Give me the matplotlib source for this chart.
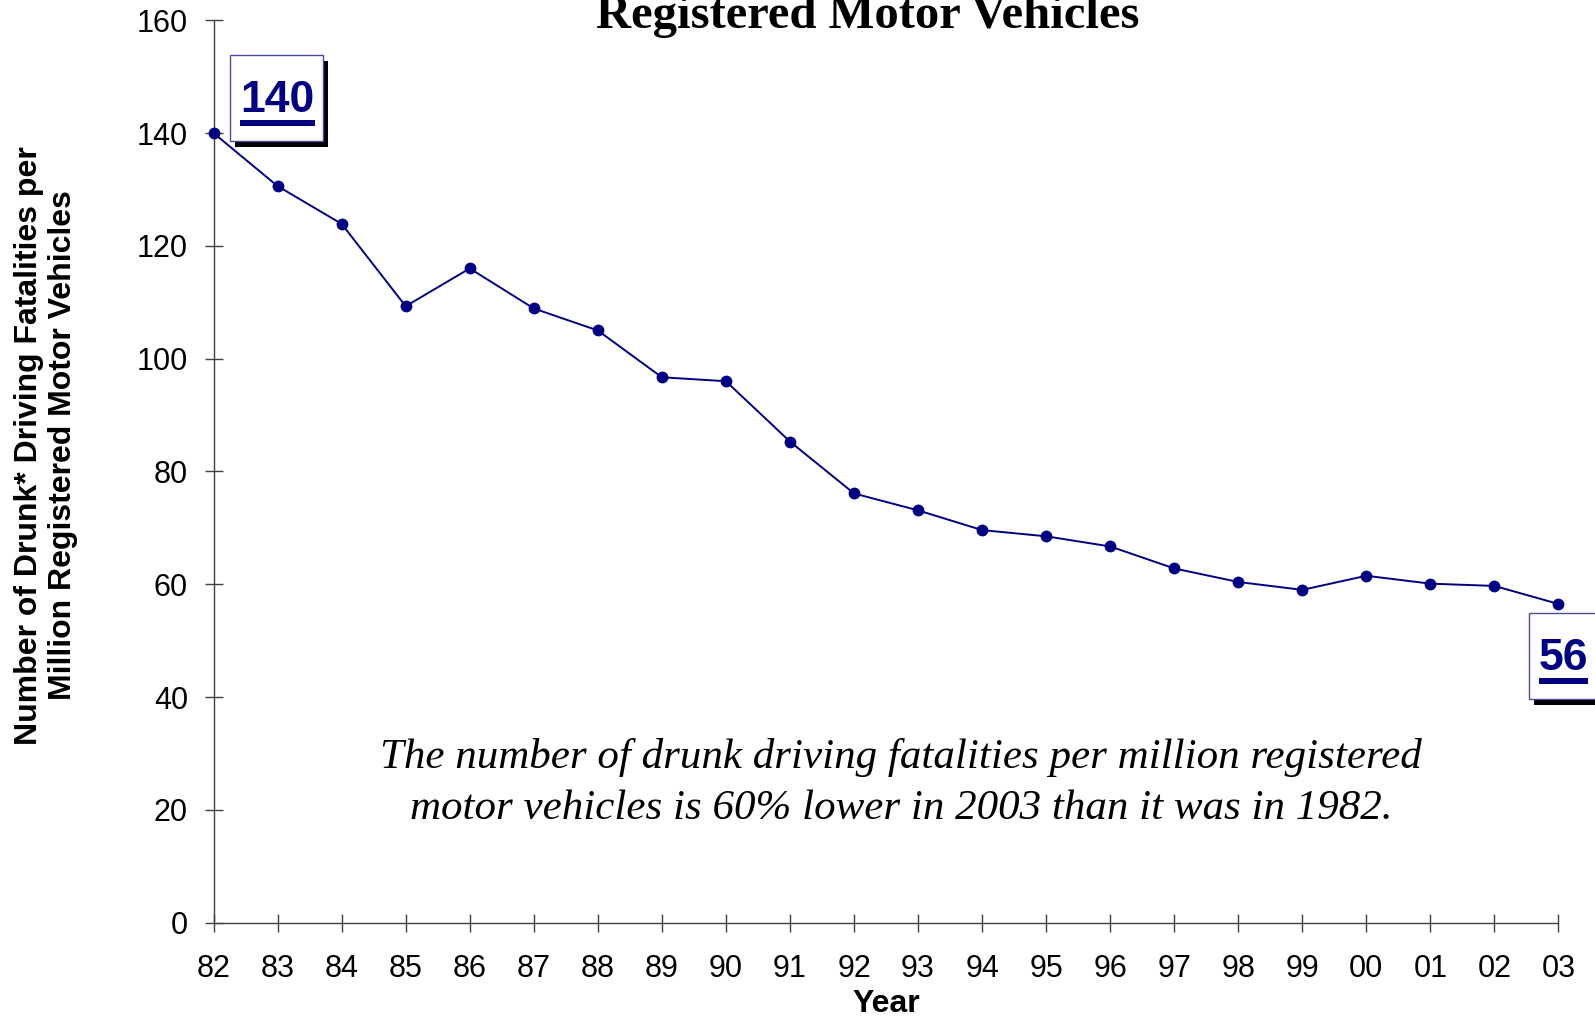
import matplotlib.pyplot as plt
import matplotlib.transforms as mtransforms
from matplotlib.patches import Rectangle

plt.rcParams['font.family'] = ['Liberation Sans', 'DejaVu Sans']

years = ['82', '83', '84', '85', '86', '87', '88', '89', '90', '91', '92',
         '93', '94', '95', '96', '97', '98', '99', '00', '01', '02', '03']
fatalities = [140.0, 130.6, 123.9, 109.3, 116.0, 108.9, 105.0, 96.7, 96.0, 85.3, 76.1,
              73.1, 69.6, 68.5, 66.7, 62.8, 60.4, 59.0, 61.5, 60.1, 59.7, 56.5]
y_ticks = [0, 20, 40, 60, 80, 100, 120, 140, 160]

navy = '#000080'
axis_grey = '#404040'

fig = plt.figure(figsize=(15.95, 10.21), dpi=100)
ax = fig.add_axes([0.1339, 0.0964, 0.8432, 0.8837])

x = list(range(len(years)))
ax.plot(x, fatalities, color=navy, lw=1.4, marker='o', ms=7.5, clip_on=False, zorder=3)

ax.set_xlim(0, len(years) - 1)
ax.set_ylim(0, 160)
ax.set_xticks(x)
ax.set_xticklabels(years)
ax.set_yticks(y_ticks)

for side in ['top', 'right']:
    ax.spines[side].set_visible(False)
for side in ['left', 'bottom']:
    ax.spines[side].set_color(axis_grey)
    ax.spines[side].set_linewidth(1)

ax.tick_params(direction='inout', length=13, width=1, color=axis_grey, labelsize=22)
ax.tick_params(axis='x', pad=16)
ax.tick_params(axis='y', pad=12)

ax.set_xlabel('Year', fontsize=23, fontweight='bold', labelpad=4)
ax.set_ylabel('Number of Drunk* Driving Fatalities per\nMillion Registered Motor Vehicles',
              fontsize=23, fontweight='bold', linespacing=1.2)
ax.yaxis.set_label_coords(-0.1246, 0.529)
ax.yaxis.label.set_verticalalignment('center')

# title sits partly off the top of the picture
fig.text(0.544, 1 - 28 / 1021, 'Registered Motor Vehicles', family='Liberation Serif',
         fontsize=35, fontweight='bold', ha='center', va='baseline')

note_font = dict(family='Liberation Serif', style='italic', fontsize=31, ha='center', va='baseline')
ax.text(0.511, 0.1713, 'The number of drunk driving fatalities per million registered',
        transform=ax.transAxes, **note_font)
ax.text(0.511, 0.1148, 'motor vehicles is 60% lower in 2003 than it was in 1982.',
        transform=ax.transAxes, **note_font)

renderer = fig.canvas.get_renderer()
ident = mtransforms.IdentityTransform()


def callout(i, text, dx, dy, w, h, text_dx):
    px, py = ax.transData.transform((i, fatalities[i]))
    left, bottom = px + dx, py + dy
    fig.add_artist(Rectangle((left + 5, bottom - 6), w, h, facecolor='black',
                             edgecolor='none', transform=ident))
    fig.add_artist(Rectangle((left, bottom), w, h, facecolor='white',
                             edgecolor='#4a4aa0', lw=1, transform=ident))
    t = fig.text(left + text_dx, bottom + 28.7, text, transform=ident, color=navy,
                 fontsize=32, fontweight='bold', ha='center', va='baseline')
    tw = t.get_window_extent(renderer).width
    fig.add_artist(Rectangle((left + text_dx - tw / 2, bottom + 14.7), tw, 6,
                             facecolor=navy, edgecolor='none', transform=ident))


callout(0, '140', 16.4, -7.6, 92.7, 85.7, 47.5)
callout(len(years) - 1, '56', -29.4, -95, 70, 86, 34.5)

fig.savefig('out.png', dpi=100)
